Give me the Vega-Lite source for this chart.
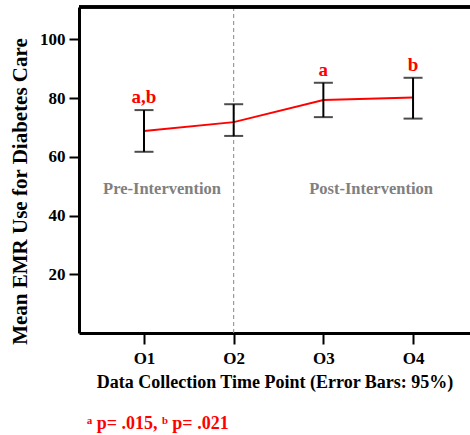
{
  "$schema": "https://vega.github.io/schema/vega-lite/v6.json",
  "autosize": {"type": "none"},
  "padding": {"left": 79, "top": 7, "right": 0, "bottom": 102},
  "width": 391,
  "height": 326,
  "background": "white",
  "config": {
    "view": {"stroke": null},
    "font": "Liberation Serif"
  },
  "title": {
    "text": "ᵃ p= .015, ᵇ p= .021",
    "orient": "bottom",
    "anchor": "start",
    "frame": "group",
    "font": "Liberation Serif",
    "fontSize": 18,
    "fontWeight": "bold",
    "color": "#ff0000",
    "dx": 8,
    "offset": 24
  },
  "datasets": {
    "points": [
      {"time": "O1", "mean": 68.8, "lower": 61.7, "upper": 75.9, "sig": "a,b"},
      {"time": "O2", "mean": 71.8, "lower": 67.1, "upper": 77.9, "sig": ""},
      {"time": "O3", "mean": 79.3, "lower": 73.5, "upper": 85.2, "sig": "a"},
      {"time": "O4", "mean": 80.2, "lower": 73.0, "upper": 86.9, "sig": "b"}
    ],
    "phases": [
      {"time": "O1", "label": "Pre-Intervention", "level": 49},
      {"time": "O4", "label": "Post-Intervention", "level": 49}
    ],
    "divider": [{"time": "O2"}]
  },
  "data": {"name": "points"},
  "layer": [
    {
      "data": {"name": "divider"},
      "mark": {"type": "rule", "color": "#888888", "strokeWidth": 1, "strokeDash": [4, 3]},
      "encoding": {
        "x": {
          "field": "time",
          "type": "ordinal",
          "scale": {"type": "point", "domain": ["O1", "O2", "O3", "O4"], "padding": 0.68, "align": 0.533},
          "axis": {
            "title": "Data Collection Time Point (Error Bars: 95%)",
            "labelAngle": 0,
            "labelFont": "Liberation Serif",
            "labelFontSize": 17,
            "labelFontWeight": "bold",
            "labelColor": "black",
            "labelPadding": 6,
            "tickSize": 11,
            "tickWidth": 2,
            "tickColor": "black",
            "domainColor": "black",
            "domainWidth": 3,
            "titleFont": "Liberation Serif",
            "titleFontSize": 18,
            "titleFontWeight": "bold",
            "titleColor": "black",
            "titlePadding": 7
          }
        }
      }
    },
    {
      "mark": {"type": "line", "color": "#ff0000", "strokeWidth": 2},
      "encoding": {
        "x": {"field": "time", "type": "ordinal"},
        "y": {
          "field": "mean",
          "type": "quantitative",
          "scale": {"domain": [0, 111], "nice": false, "zero": true},
          "axis": {
            "title": "Mean EMR Use for Diabetes Care",
            "values": [20, 40, 60, 80, 100],
            "grid": false,
            "labelFont": "Liberation Serif",
            "labelFontSize": 17,
            "labelFontWeight": "bold",
            "labelColor": "black",
            "labelPadding": 4,
            "tickSize": 10,
            "tickWidth": 2,
            "tickColor": "black",
            "domainColor": "black",
            "domainWidth": 3,
            "titleFont": "Liberation Serif",
            "titleFontSize": 21,
            "titleFontWeight": "bold",
            "titleColor": "black",
            "titleX": -49,
            "titleY": 184
          }
        }
      }
    },
    {
      "mark": {"type": "rule", "color": "black", "strokeWidth": 2},
      "encoding": {
        "x": {"field": "time", "type": "ordinal"},
        "y": {"field": "lower", "type": "quantitative"},
        "y2": {"field": "upper"}
      }
    },
    {
      "mark": {"type": "tick", "color": "black", "thickness": 2, "size": 19, "orient": "horizontal"},
      "encoding": {
        "x": {"field": "time", "type": "ordinal"},
        "y": {"field": "upper", "type": "quantitative"}
      }
    },
    {
      "mark": {"type": "tick", "color": "black", "thickness": 2, "size": 19, "orient": "horizontal"},
      "encoding": {
        "x": {"field": "time", "type": "ordinal"},
        "y": {"field": "lower", "type": "quantitative"}
      }
    },
    {
      "mark": {"type": "text", "color": "#ff0000", "font": "Liberation Serif", "fontSize": 19, "fontWeight": "bold", "baseline": "bottom", "dy": -3},
      "encoding": {
        "x": {"field": "time", "type": "ordinal"},
        "y": {"field": "upper", "type": "quantitative"},
        "text": {"field": "sig"}
      }
    },
    {
      "data": {"name": "phases"},
      "transform": [{"filter": "datum.label === 'Pre-Intervention'"}],
      "mark": {"type": "text", "color": "#808080", "font": "Liberation Serif", "fontSize": 16.5, "fontWeight": "bold", "baseline": "middle", "dx": 18},
      "encoding": {
        "x": {"field": "time", "type": "ordinal"},
        "y": {"field": "level", "type": "quantitative"},
        "text": {"field": "label"}
      }
    },
    {
      "data": {"name": "phases"},
      "transform": [{"filter": "datum.label === 'Post-Intervention'"}],
      "mark": {"type": "text", "color": "#808080", "font": "Liberation Serif", "fontSize": 16.5, "fontWeight": "bold", "baseline": "middle", "dx": -42},
      "encoding": {
        "x": {"field": "time", "type": "ordinal"},
        "y": {"field": "level", "type": "quantitative"},
        "text": {"field": "label"}
      }
    },
    {
      "mark": {"type": "rule", "color": "black", "strokeWidth": 3},
      "encoding": {"y": {"datum": 111}}
    }
  ]
}
